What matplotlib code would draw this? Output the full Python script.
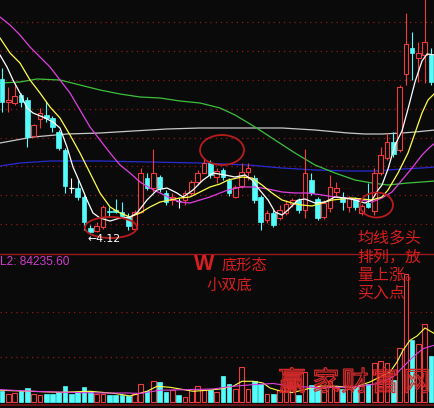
import matplotlib
matplotlib.use("Agg")
import matplotlib.pyplot as plt
from matplotlib.patches import Rectangle, Ellipse
import matplotlib.patheffects as pe

# ---- daily bars (price in yuan) ----
opens = [5.66, 5.43, 5.42, 5.50, 5.45, 5.09, 5.26, 5.30, 5.27, 5.13,
         4.95, 4.57, 4.57, 4.48, 4.17, 4.14, 4.18, 4.34, 4.35, 4.33,
         4.28, 4.16, 4.33, 4.67, 4.57, 4.68, 4.52, 4.45, 4.44, 4.45,
         4.52, 4.63, 4.72, 4.82, 4.68, 4.75, 4.65, 4.48, 4.59, 4.73,
         4.67, 4.48, 4.25, 4.32, 4.27, 4.32, 4.41, 4.45, 4.35, 4.65,
         4.46, 4.28, 4.37, 4.53, 4.48, 4.38, 4.46, 4.32, 4.42, 4.34,
         4.72, 4.87, 5.03, 4.95, 5.71, 5.97, 5.87, 5.90, 5.90]
highs = [5.77, 5.58, 5.62, 5.52, 5.48, 5.21, 5.37, 5.44, 5.29, 5.15,
         4.97, 4.67, 4.65, 4.50, 4.20, 4.23, 4.40, 4.38, 4.46, 4.43,
         4.32, 4.35, 4.77, 4.72, 4.96, 4.70, 4.55, 4.52, 4.47, 4.55,
         4.65, 4.75, 4.87, 4.85, 4.77, 4.77, 4.67, 4.60, 4.82, 4.82,
         4.70, 4.50, 4.35, 4.35, 4.40, 4.45, 4.47, 4.47, 4.96, 4.72,
         4.48, 4.45, 4.70, 4.63, 4.53, 4.49, 4.48, 4.41, 4.62, 4.77,
         4.98, 5.12, 5.13, 5.60, 6.32, 6.13, 6.03, 6.47, 5.97]
lows = [5.33, 5.33, 5.40, 5.38, 4.98, 5.08, 5.17, 5.23, 5.13, 4.95,
        4.52, 4.52, 4.45, 4.15, 4.12, 4.13, 4.16, 4.28, 4.32, 4.27,
        4.15, 4.15, 4.32, 4.55, 4.53, 4.53, 4.40, 4.40, 4.37, 4.40,
        4.50, 4.60, 4.72, 4.67, 4.62, 4.65, 4.49, 4.47, 4.57, 4.65,
        4.42, 4.15, 4.22, 4.18, 4.25, 4.30, 4.38, 4.32, 4.27, 4.50,
        4.25, 4.26, 4.33, 4.49, 4.35, 4.33, 4.35, 4.30, 4.37, 4.30,
        4.70, 4.85, 4.88, 4.93, 5.60, 5.65, 5.63, 5.62, 5.60]
closes = [5.43, 5.45, 5.49, 5.43, 5.08, 5.20, 5.32, 5.27, 5.18, 4.97,
          4.59, 4.57, 4.48, 4.23, 4.13, 4.19, 4.38, 4.33, 4.33, 4.29,
          4.19, 4.33, 4.72, 4.57, 4.72, 4.57, 4.43, 4.48, 4.44, 4.52,
          4.63, 4.72, 4.82, 4.70, 4.74, 4.68, 4.52, 4.58, 4.73, 4.77,
          4.45, 4.23, 4.32, 4.20, 4.35, 4.41, 4.45, 4.35, 4.72, 4.52,
          4.27, 4.42, 4.58, 4.57, 4.43, 4.47, 4.38, 4.39, 4.38, 4.72,
          4.90, 5.03, 4.91, 5.58, 6.01, 5.92, 5.92, 6.03, 5.63]
# volume, thousand shares
volumes = [15.8, 12.3, 13.3, 15.8, 20.7, 12.3, 10.8, 11.8, 12.3, 14.3,
           24.1, 11.8, 14.3, 22.6, 15.8, 12.3, 12.3, 10.8, 10.8, 10.8,
           8.4, 11.8, 26.6, 16.7, 31.5, 29.1, 14.3, 18.2, 10.8, 7.4,
           19.7, 24.1, 17.3, 18.2, 14.8, 38.9, 27.0, 19.7, 51.7, 19.7,
           31.5, 26.6, 12.3, 12.3, 17.7, 22.2, 22.2, 9.6, 44.3, 25.1,
           23.2, 20.7, 30.6, 20.7, 19.2, 19.2, 23.2, 23.2, 27.0, 56.9,
           61.3, 57.6, 33.0, 79.8, 189.2, 91.6, 85.7, 115.3, 68.4]

# ---- moving-average curves (day position, price) ----
ma5_days = [-0.32, 0.79, 1.74, 2.85, 3.96, 4.91, 6.50, 8.08, 9.19, 10.30,
            11.25, 12.36, 13.47, 14.42, 15.53, 17.12, 18.70, 20.29, 21.39, 22.98,
            24.56, 26.15, 27.73, 28.68, 30.27, 31.85, 33.44, 35.35, 36.93, 38.51,
            39.62, 40.57, 42.16, 43.26, 44.37, 45.32, 46.91, 48.02, 49.60, 51.19,
            52.77, 54.36, 55.94, 57.53, 58.64, 59.59, 60.22, 61.17, 62.28, 63.39,
            64.34, 65.45, 66.56, 67.35, 68.62]
ma5_vals = [5.90, 5.78, 5.65, 5.52, 5.37, 5.32, 5.28, 5.23, 5.17, 4.98,
            4.78, 4.62, 4.45, 4.32, 4.27, 4.24, 4.27, 4.28, 4.32, 4.45,
            4.55, 4.57, 4.52, 4.48, 4.55, 4.65, 4.72, 4.70, 4.68, 4.70,
            4.65, 4.57, 4.45, 4.33, 4.30, 4.35, 4.45, 4.46, 4.42, 4.43,
            4.48, 4.47, 4.45, 4.42, 4.45, 4.55, 4.60, 4.76, 5.00, 5.14,
            5.36, 5.63, 5.84, 5.91, 5.90]
ma10_days = [-0.32, 1.27, 2.85, 4.44, 6.02, 7.61, 9.19, 10.78, 12.36, 13.95,
             15.53, 17.12, 18.70, 20.29, 21.87, 23.45, 25.04, 26.62, 28.21, 29.79,
             31.38, 32.96, 34.55, 35.82, 38.03, 39.62, 41.20, 42.79, 44.37, 45.96,
             47.54, 49.13, 50.71, 52.30, 53.88, 55.47, 57.05, 58.64, 60.22, 61.17,
             62.76, 64.34, 65.45, 66.56, 67.51, 68.62]
ma10_vals = [6.07, 5.92, 5.82, 5.65, 5.52, 5.38, 5.27, 5.10, 4.92, 4.72,
             4.52, 4.38, 4.32, 4.28, 4.32, 4.38, 4.43, 4.45, 4.47, 4.48,
             4.53, 4.58, 4.61, 4.65, 4.68, 4.67, 4.60, 4.52, 4.45, 4.42,
             4.40, 4.39, 4.42, 4.45, 4.46, 4.47, 4.46, 4.45, 4.48, 4.55,
             4.72, 4.92, 5.12, 5.32, 5.45, 5.52]
ma20_days = [-0.32, 1.27, 2.85, 4.44, 6.02, 7.61, 9.19, 10.78, 12.36, 13.95,
             15.53, 17.12, 18.70, 20.29, 21.87, 23.45, 25.04, 26.62, 28.21, 29.79,
             31.38, 32.96, 34.55, 35.82, 38.03, 40.10, 42.16, 44.37, 46.43, 48.49,
             50.71, 52.77, 54.83, 57.05, 58.64, 60.22, 61.81, 63.39, 64.98, 66.56,
             67.83, 68.62]
ma20_vals = [6.28, 6.20, 6.10, 5.98, 5.88, 5.78, 5.65, 5.52, 5.35, 5.18,
             5.05, 4.92, 4.80, 4.72, 4.63, 4.57, 4.52, 4.47, 4.43, 4.42,
             4.45, 4.48, 4.52, 4.55, 4.58, 4.58, 4.56, 4.53, 4.52, 4.52,
             4.50, 4.48, 4.47, 4.45, 4.43, 4.47, 4.53, 4.65, 4.77, 4.90,
             4.98, 5.02]
ma60_days = [-0.32, 2.85, 5.55, 9.19, 12.36, 15.53, 18.70, 21.87, 25.04, 28.21,
             31.38, 34.55, 36.93, 40.10, 43.26, 46.43, 49.60, 52.77, 55.94, 58.64,
             61.17, 64.34, 66.56, 68.62]
ma60_vals = [5.62, 5.63, 5.66, 5.65, 5.60, 5.55, 5.51, 5.48, 5.47, 5.44,
             5.42, 5.37, 5.30, 5.18, 5.05, 4.92, 4.80, 4.72, 4.65, 4.62,
             4.60, 4.62, 4.63, 4.64]
ma120_days = [-0.32, 4.91, 10.30, 15.53, 20.76, 26.15, 31.38, 38.99, 44.37, 49.60,
              54.83, 57.53, 60.22, 63.39, 65.45, 68.62]
ma120_vals = [5.02, 5.08, 5.11, 5.12, 5.14, 5.16, 5.17, 5.17, 5.17, 5.15,
              5.12, 5.11, 5.11, 5.12, 5.13, 5.15]
ma250_days = [-0.32, 2.85, 7.61, 15.53, 23.45, 31.38, 38.99, 44.37, 49.60, 54.83,
              59.11, 63.39, 66.56, 68.62]
ma250_vals = [4.79, 4.82, 4.84, 4.84, 4.83, 4.82, 4.80, 4.77, 4.75, 4.74,
              4.74, 4.76, 4.77, 4.78]

# ---- volume averages (day position, thousand shares) ----
vma1_days = [-0.32, 4.44, 9.19, 13.95, 17.91, 20.29, 22.98, 24.56, 26.62, 28.21,
             30.27, 32.49, 34.55, 36.61, 38.03, 39.78, 41.36, 42.47, 44.06, 46.12,
             48.34, 50.40, 53.09, 55.63, 58.32, 59.90, 61.49, 62.60, 63.55, 64.66,
             65.77, 67.04, 67.83, 68.62]
vma1_vals = [17.3, 15.8, 14.3, 15.8, 12.6, 8.9, 15.8, 23.2, 21.7, 19.2,
             15.8, 17.3, 19.2, 23.2, 30.6, 30.6, 28.1, 20.7, 16.3, 14.0,
             19.2, 23.6, 23.2, 21.1, 29.6, 37.0, 44.3, 59.1, 76.4, 91.2,
             97.5, 109.4, 104.9, 100.5]
vma2_days = [-0.32, 4.91, 10.30, 15.53, 19.81, 21.87, 25.04, 29.32, 33.44, 36.61,
             39.78, 42.95, 46.12, 50.40, 55.63, 59.43, 61.97, 63.55, 65.13, 66.72,
             68.62]
vma2_vals = [18.2, 15.8, 14.3, 13.3, 13.3, 12.6, 17.3, 18.2, 19.2, 23.2,
             25.6, 27.3, 23.2, 21.1, 22.2, 27.0, 37.0, 51.7, 66.5, 78.8,
             84.24]
l2_value = 84235.60

price_grid = [4.21, 4.50, 4.79, 5.07, 5.36, 5.65, 5.94, 6.23]
vol_grid = [66.5, 133.0]

BG = "#0a0a0a"
UP = "#f03c3c"
DOWN = "#54fcfc"
RED_TXT = "#d81e1e"
GRID = "#8c1a1a"

W_PX, H_PX = 435, 408
fig = plt.figure(figsize=(W_PX / 100, H_PX / 100), dpi=100, facecolor=BG)
split = 254  # pixel row of the panel divider


def fx(x):
    return x / W_PX


def fy(y):
    return 1 - y / H_PX


ax = fig.add_axes([0, fy(split), 1, split / H_PX], facecolor=BG)
axv = fig.add_axes([0, 0, 1, fy(split)], facecolor=BG)

n = len(closes)
xmin, xmax = -0.317, 68.62
for a in (ax, axv):
    a.set_xlim(xmin, xmax)
    a.set_xticks([])
    a.set_yticks([])
    for s in a.spines.values():
        s.set_visible(False)

ax.set_ylim(3.91, 6.45)
axv.set_ylim(-8.9, 218.7)

for g in price_grid:
    ax.axhline(g, color=GRID, lw=0.9, ls=(0, (1, 3.2)), zorder=1)
for g in vol_grid:
    axv.axhline(g, color=GRID, lw=0.9, ls=(0, (1, 3.2)), zorder=1)

axv.spines["top"].set_visible(True)
axv.spines["top"].set_color("#9a1a1a")
axv.spines["top"].set_linewidth(1.0)
axv.axhline(-4.4, color="#7a1414", lw=1.2, zorder=1)

# long-period averages behind the candles
ax.plot(ma250_days, ma250_vals, color="#2a2ad2", lw=0.9, zorder=2)
ax.plot(ma120_days, ma120_vals, color="#c8c8c8", lw=0.9, zorder=2)
ax.plot(ma60_days, ma60_vals, color="#3cc03c", lw=0.9, zorder=2)

bw = 0.74
for i in range(n):
    o, h, l, c = opens[i], highs[i], lows[i], closes[i]
    if c > o:
        ax.vlines(i, l, o, color=UP, lw=0.8, zorder=3)
        ax.vlines(i, c, h, color=UP, lw=0.8, zorder=3)
        ax.add_patch(Rectangle((i - bw / 2, o), bw, c - o, facecolor=BG,
                               edgecolor=UP, lw=0.8, zorder=4))
    elif c < o:
        ax.vlines(i, l, h, color=DOWN, lw=0.8, zorder=3)
        ax.add_patch(Rectangle((i - bw / 2, c), bw, o - c, facecolor=DOWN,
                               edgecolor=DOWN, lw=0.5, zorder=4))
    else:
        ax.vlines(i, l, h, color="white", lw=0.8, zorder=3)
        ax.hlines(c, i - bw / 2, i + bw / 2, color="white", lw=0.9, zorder=4)

# short-period averages on top
ax.plot(ma20_days, ma20_vals, color="#e040e0", lw=0.9, zorder=5)
ax.plot(ma10_days, ma10_vals, color="#ffff48", lw=0.9, zorder=5)
ax.plot(ma5_days, ma5_vals, color="white", lw=0.9, zorder=6)

for i in range(n):
    v = volumes[i]
    if closes[i] > opens[i]:
        axv.add_patch(Rectangle((i - bw / 2, 0), bw, v, facecolor=BG,
                                edgecolor=UP, lw=0.8, zorder=3))
    else:
        axv.add_patch(Rectangle((i - bw / 2, 0), bw, v, facecolor=DOWN,
                                edgecolor=DOWN, lw=0.5, zorder=3))
axv.plot(vma1_days, vma1_vals, color="#ffff48", lw=0.8, zorder=4)
axv.plot(vma2_days, vma2_vals, color="#e040e0", lw=0.8, zorder=4)

# annotation rings
ring = dict(fill=False, edgecolor="#b81c1c", lw=1.3, zorder=7)
ax.add_patch(Ellipse((34.87, 4.95), 6.97, 0.30, **ring))
ax.add_patch(Ellipse((17.25, 4.175), 8.24, 0.21, **ring))
ax.add_patch(Ellipse((59.35, 4.40), 5.23, 0.25, **ring))

low_i = lows.index(min(lows))
fig.text(fx(87), fy(238.5), "\u2190" + f"{lows[low_i]:.2f}", color="white",
         fontsize=7.8, family="DejaVu Sans", ha="left", va="center")

fig.text(fx(0), fy(262), f"L2: {l2_value:.2f}", color="#d03cd0",
         fontsize=8.6, family="Liberation Sans", ha="left", va="center")

cjk = ["Noto Sans CJK SC", "DejaVu Sans"]
fig.text(fx(194), fy(264), "W", color=RED_TXT, fontsize=15.5,
         family="Liberation Sans", weight="bold", ha="left", va="center")
fig.text(fx(222), fy(265.5), "底形态", color=RED_TXT, fontsize=11,
         family=cjk, ha="left", va="center")
fig.text(fx(206), fy(285.5), "小双底", color=RED_TXT, fontsize=11,
         family=cjk, ha="left", va="center")

for k, line in enumerate(["均线多头", "排列，放", "量上涨。", "买入点"]):
    fig.text(fx(357), fy(239 + 18 * k), line, color=RED_TXT, fontsize=11.5,
             family=cjk, ha="left", va="center", zorder=8)

# hollow site mark over the volume bars
for ch, cx in zip("赢家财富网", [292, 326, 355, 385, 417]):
    t = fig.text(fx(cx), fy(383), ch, color="none", fontsize=19.5,
                 family=cjk, ha="center", va="center", zorder=9)
    t.set_path_effects([pe.Stroke(linewidth=0.9, foreground="#d42a2a")])

fig.savefig("out.png", dpi=100, facecolor=BG)
